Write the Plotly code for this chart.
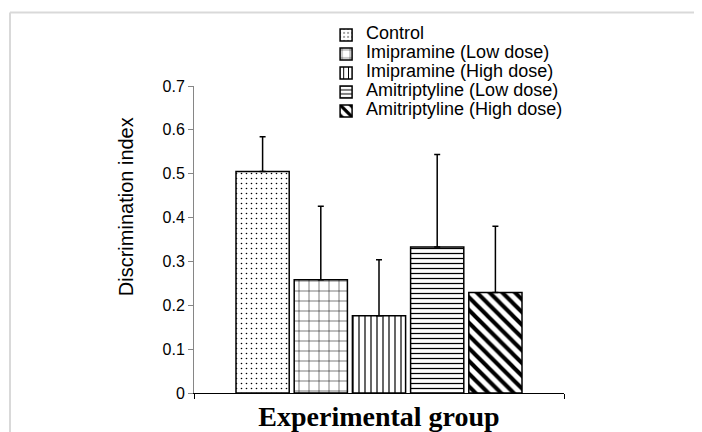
import plotly.graph_objects as go

groups = ["Control", "Imipramine (Low dose)", "Imipramine (High dose)",
          "Amitriptyline (Low dose)", "Amitriptyline (High dose)"]
means = [0.505, 0.258, 0.176, 0.333, 0.229]
errors = [0.079, 0.168, 0.128, 0.211, 0.151]
category = ["Experimental group"]
y_ticks = [0, 0.1, 0.2, 0.3, 0.4, 0.5, 0.6, 0.7]
y_tick_labels = ["0", "0.1", "0.2", "0.3", "0.4", "0.5", "0.6", "0.7"]
x_title = "Experimental group"
y_title = "Discrimination index"

patterns = [
    dict(shape=".", size=5, solidity=0.08),
    dict(shape="+", size=10, solidity=0.1),
    dict(shape="|", size=6, solidity=0.2),
    dict(shape="-", size=5, solidity=0.25),
    dict(shape="\\", size=9, solidity=0.45),
]

fig = go.Figure()
for name, m, e, p in zip(groups, means, errors, patterns):
    fig.add_trace(go.Bar(
        x=category, y=[m],
        name='<span style="font-size:18px">%s</span>' % name,
        marker=dict(color="white",
                    line=dict(color="black", width=1.5),
                    pattern=dict(fgcolor="black", bgcolor="white",
                                 fillmode="replace", **p)),
        error_y=dict(type="data", array=[e], arrayminus=[0], symmetric=False,
                     color="black", thickness=1.5, width=3),
    ))

L, T, PW, PH = 186, 76, 370, 309
W, H = 694, 424

fig.update_layout(
    width=W, height=H,
    margin=dict(l=L, r=W - L - PW, t=T, b=H - T - PH),
    paper_bgcolor="white", plot_bgcolor="white",
    barmode="group", bargap=0.2135, bargroupgap=0.086,
    font=dict(family="Liberation Sans, Arial", size=16, color="black"),
    showlegend=True,
    legend=dict(x=0.357, y=1.2136, xanchor="left", yanchor="top",
                bgcolor="rgba(0,0,0,0)", font=dict(size=11),
                tracegroupgap=0, itemwidth=30),
    xaxis=dict(showticklabels=False, showline=True, linecolor="black",
               linewidth=1, ticks="outside", tickson="boundaries",
               ticklen=5, tickcolor="black", showgrid=False, zeroline=False,
               range=[-0.5, 0.5], automargin=False,
               title=dict(text="<b>%s</b>" % x_title,
                          font=dict(family="Liberation Serif, Times New Roman",
                                    size=28), standoff=16)),
    yaxis=dict(range=[0, 0.7], tickvals=y_ticks, ticktext=y_tick_labels,
               showline=True, linecolor="#868686", linewidth=1,
               ticks="outside", ticklen=5, tickcolor="#868686",
               showgrid=False, zeroline=False, automargin=False,
               tickfont=dict(size=16)),
    annotations=[dict(text=y_title, textangle=-90, xref="paper", yref="paper",
                      x=(118 - L) / PW, y=(PH - (198 - T)) / PH,
                      xanchor="center", yanchor="middle", showarrow=False,
                      font=dict(size=20))],
    shapes=[
        dict(type="line", xref="paper", yref="paper",
             x0=(2 - L) / PW, x1=1.6, y0=1 + (T - 2) / PH, y1=1 + (T - 2) / PH,
             line=dict(color="#d9d9d9", width=2), layer="below"),
        dict(type="line", xref="paper", yref="paper",
             x0=(2 - L) / PW, x1=(2 - L) / PW, y0=-0.3, y1=1 + (T - 2) / PH,
             line=dict(color="#d9d9d9", width=2), layer="below"),
    ],
)

fig.write_html("out.html",
               post_script="document.body.style.overflow='hidden';")
